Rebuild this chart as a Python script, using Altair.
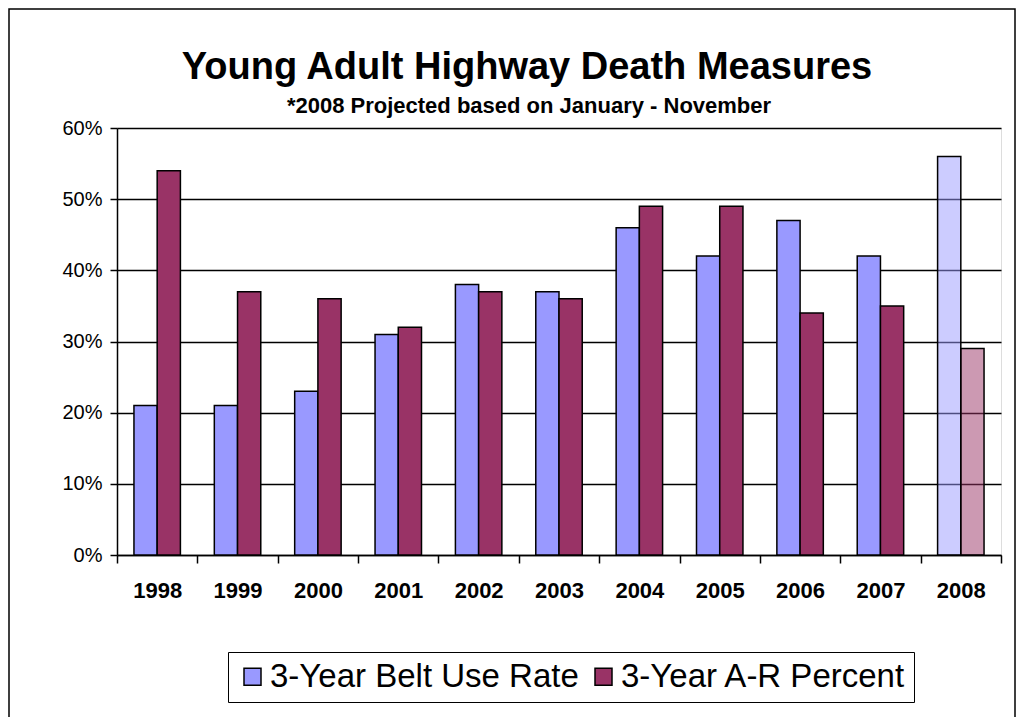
import altair as alt
import pandas as pd

years = ["1998", "1999", "2000", "2001", "2002", "2003", "2004", "2005", "2006", "2007", "2008"]
belt_use = [21, 21, 23, 31, 38, 37, 46, 42, 47, 42, 56]
ar_percent = [54, 37, 36, 32, 37, 36, 49, 49, 34, 35, 29]
series_names = ["3-Year Belt Use Rate", "3-Year A-R Percent"]
series_colors = ["#9999FF", "#993366"]
y_ticks = [0, 0.1, 0.2, 0.3, 0.4, 0.5, 0.6]
title_text = "Young Adult Highway Death Measures"
subtitle_text = "*2008 Projected based on January - November"

rows = []
for i, y in enumerate(years):
    rows.append({"year": y, "series": series_names[0], "value": belt_use[i] / 100})
    rows.append({"year": y, "series": series_names[1], "value": ar_percent[i] / 100})
df = pd.DataFrame(rows)

FONT = "Liberation Sans"

bars = alt.Chart(df).mark_bar(stroke="black", strokeWidth=1.5).encode(
    x=alt.X("year:N", sort=years,
            scale=alt.Scale(paddingInner=0, paddingOuter=0),
            axis=alt.Axis(title=None, labelAngle=0, labelFont=FONT, labelFontSize=22,
                          labelFontWeight="bold", labelColor="black", labelPadding=17,
                          domainColor="black", domainWidth=1.5, tickColor="black",
                          tickWidth=1.5, tickSize=8, tickBand="extent")),
    xOffset=alt.XOffset("series:N", sort=series_names,
                        scale=alt.Scale(paddingInner=0, paddingOuter=0.73)),
    y=alt.Y("value:Q", scale=alt.Scale(domain=[0, 0.6], nice=False),
            axis=alt.Axis(title=None, format=".0%", values=y_ticks, labelFont=FONT,
                          labelFontSize=20, labelColor="black", labelPadding=8,
                          domainColor="black", domainWidth=1.5, tickColor="black",
                          tickWidth=1.5, tickSize=7, gridColor="black", gridWidth=1.5,
                          gridOpacity=1)),
    color=alt.Color("series:N",
                    scale=alt.Scale(domain=series_names, range=series_colors),
                    legend=alt.Legend(title=None, orient="none", legendX=111, legendY=524,
                                      direction="horizontal", labelFont=FONT,
                                      labelFontSize=33, labelColor="black", labelLimit=600,
                                      symbolType="square", symbolSize=289,
                                      symbolStrokeColor="black", symbolStrokeWidth=1.5,
                                      symbolOpacity=1, strokeColor="black",
                                      padding=8, columnPadding=8, labelOffset=1,
                                      fillColor="white")),
    fillOpacity=alt.condition("datum.year == '2008'", alt.value(0.5), alt.value(1)),
)

frame = alt.Chart(pd.DataFrame({"a": [0]})).mark_rect(
    filled=False, stroke="black", strokeWidth=1.5
).encode(
    x=alt.value(-108), x2=alt.value(898), y=alt.value(-119), y2=alt.value(600)
)

title = alt.Chart(pd.DataFrame({"t": [title_text]})).mark_text(
    font=FONT, fontSize=38, fontWeight="bold", color="black", align="center",
    baseline="alphabetic"
).encode(text="t:N", x=alt.value(410), y=alt.value(-49))

subtitle = alt.Chart(pd.DataFrame({"t": [subtitle_text]})).mark_text(
    font=FONT, fontSize=22, fontWeight="bold", color="black", align="center",
    baseline="alphabetic"
).encode(text="t:N", x=alt.value(412), y=alt.value(-15))

chart = alt.layer(frame, bars, title, subtitle).properties(
    width=884,
    height=427,
    autosize="none",
    padding={"left": 109, "top": 120, "right": 15, "bottom": 162},
).configure_view(stroke="black", strokeWidth=1.5).configure(background="white")

chart.save("out.html", embed_options={"renderer": "svg", "actions": False})
